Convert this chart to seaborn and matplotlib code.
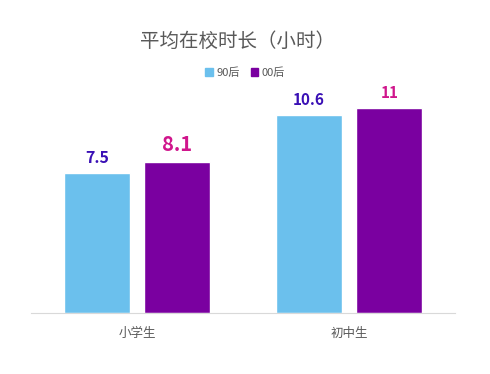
import seaborn as sns
import matplotlib
matplotlib.use("Agg")
import matplotlib.pyplot as plt
import pandas as pd

categories = ["小学生", "初中生"]
series = ["90后", "00后"]
values_90 = [7.5, 10.6]
values_00 = [8.1, 11]
label_texts = [["7.5", "10.6"], ["8.1", "11"]]

sns.set_style("white")
plt.rcParams['font.family'] = ['Noto Sans CJK SC', 'DejaVu Sans']

bar_colors = ["#6BC0ED", "#7A00A0"]
label_colors = ["#3A10B5", "#D0168C"]
label_sizes = [[11.5, 11], [14.5, 11]]
gray = "#595959"

df = pd.DataFrame({
    "cat": categories * 2,
    "series": [series[0]] * 2 + [series[1]] * 2,
    "value": values_90 + values_00,
})

fig = plt.figure(figsize=(4.9, 3.74), dpi=100)
ax = fig.add_axes([31 / 490, 61 / 374, 424 / 490, 224 / 374])

sns.barplot(data=df, x="cat", y="value", hue="series", palette=bar_colors,
            width=0.76, gap=0.18, ax=ax, legend=False, saturation=1)

ax.set_xlim(-0.5, 1.5)
ax.set_ylim(0, 12)
ax.set_xlabel("")
ax.set_ylabel("")
ax.set_yticks([])
ax.tick_params(axis="x", length=0, labelsize=9, labelcolor=gray, pad=10)
for side in ["top", "left", "right"]:
    ax.spines[side].set_visible(False)
ax.spines["bottom"].set_color("#D9D9D9")

# data labels
for i, cont in enumerate(ax.containers):
    for j, bar in enumerate(cont):
        x = bar.get_x() + bar.get_width() / 2
        y = bar.get_height()
        ax.annotate(label_texts[i][j], (x, y), xytext=(0, 5), textcoords="offset points",
                    ha="center", va="bottom", fontsize=label_sizes[i][j],
                    fontweight="bold", color=label_colors[i])

fig.text(0.485, 0.89, "平均在校时长（小时）", ha="center", va="center",
         fontsize=14, color=gray)

# legend
handles = [plt.Rectangle((0, 0), 1, 1, color=c) for c in bar_colors]
fig.legend(handles, series, loc="center", bbox_to_anchor=(0.5, 0.805), ncol=2,
           frameon=False, fontsize=8, labelcolor=gray, handlelength=0.7,
           handleheight=0.7, handletextpad=0.3, columnspacing=1.0)

fig.savefig("out.png", dpi=100)
